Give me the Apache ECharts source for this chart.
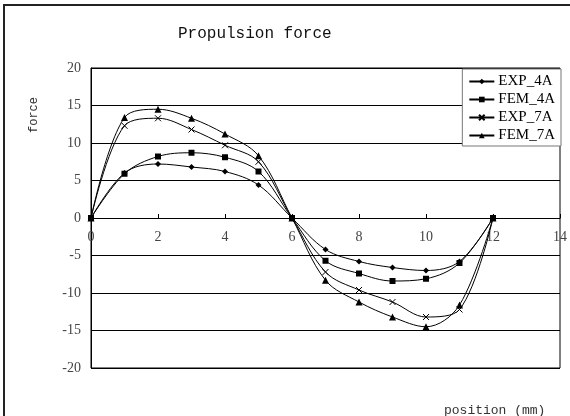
<!DOCTYPE html>
<html>
<head>
<meta charset="utf-8">
<script src="https://cdn.jsdelivr.net/npm/echarts@6/dist/echarts.min.js"></script>
<style>html,body{margin:0;padding:0;background:#fff;}#c{width:570px;height:416px;}</style>
</head>
<body>
<div id="c"></div>
<script>
const positions = [0,1,2,3,4,5,6,7,8,9,10,11,12];
const exp4A = [0,6.0,7.2,6.8,6.2,4.4,0,-4.2,-5.8,-6.6,-7.0,-5.8,0];
const fem4A = [0,5.9,8.2,8.7,8.1,6.2,0,-5.7,-7.4,-8.4,-8.1,-6.0,0];
const exp7A = [0,12.3,13.3,11.8,9.7,7.5,0,-7.2,-9.6,-11.2,-13.2,-12.2,0];
const fem7A = [0,13.4,14.5,13.3,11.2,8.3,0,-8.3,-11.2,-13.2,-14.5,-11.6,0];
const seriesNames = ['EXP_4A','FEM_4A','EXP_7A','FEM_7A'];
const yTicks = [-20,-15,-10,-5,0,5,10,15,20];
const xTicks = [0,2,4,6,8,10,12,14];

const pairs = v => positions.map((p,i)=>[p,v[i]]);
const serif = 'Liberation Serif';
const mono = 'Liberation Mono';
const crossPath = 'path://M0,0L10,10M10,0L0,10';

function mk(name, vals, symbol, size, extra) {
  return Object.assign({
    name, type:'line', data: pairs(vals), smooth:0.35,
    symbol, symbolSize:size, showSymbol:true,
    lineStyle:{color:'#000', width:1},
    itemStyle:{color:'#000'},
    emphasis:{disabled:true}
  }, extra||{});
}

const chart = echarts.init(document.getElementById('c'), null, {renderer:'canvas'});
chart.setOption({
  animation:false,
  backgroundColor:'#fff',
  title:{text:'Propulsion force', left:178, top:26, padding:0,
    textStyle:{fontFamily:mono, fontSize:16, fontWeight:'normal', color:'#111'}},
  grid:{left:91, right:10, top:68, bottom:48, show:true, borderColor:'#000', borderWidth:1, containLabel:false},
  legend:{
    data:seriesNames, orient:'vertical', right:9, top:69,
    backgroundColor:'#fff', borderColor:'#777', borderWidth:1,
    padding:[5,6,3,6], itemGap:3, itemWidth:25, itemHeight:7,
    textStyle:{fontFamily:serif, fontSize:15, color:'#000', padding:[0,0,0,-1]}
  },
  xAxis:{
    type:'value', min:0, max:14, interval:2, position:'bottom', offset:-150,
    axisLine:{show:true, onZero:false, lineStyle:{color:'#000', width:1}},
    axisTick:{show:true, inside:true, length:4, lineStyle:{color:'#000'}},
    axisLabel:{margin:12, color:'#444', fontFamily:serif, fontSize:14, showMaxLabel:true, showMinLabel:true,
      formatter: v => xTicks.includes(v) ? String(v) : ''},
    splitLine:{show:false}
  },
  yAxis:{
    type:'value', min:-20, max:20, interval:5,
    axisLine:{show:true, lineStyle:{color:'#000', width:1}},
    axisTick:{show:false},
    axisLabel:{margin:10, color:'#444', fontFamily:serif, fontSize:14,
      formatter: v => yTicks.includes(v) ? String(v) : ''},
    splitLine:{show:true, lineStyle:{color:'#000', width:1}}
  },
  graphic:[
    {type:'rect', silent:true, z:-10, shape:{x:4, y:5, width:620, height:460},
      style:{fill:'none', stroke:'#222', lineWidth:2}},
    {type:'text', x:34, y:115, rotation:Math.PI/2, silent:true,
      style:{text:'force', fontFamily:mono, fontSize:12, fill:'#333', align:'center', verticalAlign:'middle'}},
    {type:'text', x:444, y:404, silent:true,
      style:{text:'position (mm)', fontFamily:mono, fontSize:13, fill:'#333', align:'left', verticalAlign:'top'}}
  ],
  series:[
    mk('EXP_4A', exp4A, 'diamond', 6),
    mk('FEM_4A', fem4A, 'rect', 6),
    mk('EXP_7A', exp7A, crossPath, 6, {itemStyle:{color:'#000', borderColor:'#000', borderWidth:1}}),
    mk('FEM_7A', fem7A, 'triangle', 7)
  ]
});
</script>
</body>
</html>
